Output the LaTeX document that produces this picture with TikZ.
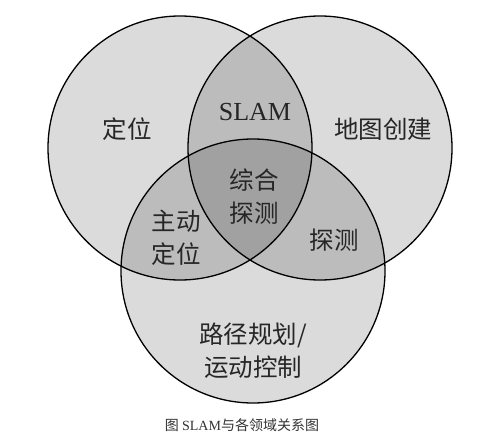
\documentclass[tikz,border=0pt]{standalone}
\usepackage{fontspec}
\setmainfont{Liberation Serif}
\newfontfamily\cjk{Noto Sans CJK SC}
\usetikzlibrary{positioning}

\tikzset{
	area/.style={draw=black, line width=1.3pt, fill=black, fill opacity=0.14, draw opacity=1},
	lbl/.style={align=center, text=black!85, font=\cjk\fontsize{24.5}{33}\selectfont}
}

\begin{document}
\begin{tikzpicture}[x=1pt, y=1pt]

	% page frame, white background
	\useasboundingbox[fill=white] (0,0) rectangle (500,445);

	% the three fields, overlaps darken by transparency
	\draw[area] (180,297) circle (132);
	\draw[area] (320,297) circle (132);
	\draw[area] (253,174) circle (132);

	% one field only
	\node[lbl] (loc) at (127,316) {定位};
	\node[lbl] (map) at (383,316) {地图创建};
	\node[lbl] (path) at (253,94) {路径规划/\\运动控制};

	% two fields
	\node[lbl, font=\fontsize{26}{30}\selectfont] (slam) at (255,333) {SLAM};
	\node[lbl] (actloc) at (176,207) {主动\\定位};
	\node[lbl] (expl) at (334,205) {探测};

	% all three
	\node[lbl] (full) at (254,248) {综合\\探测};

	% caption
	\node[text=black!80, font=\cjk\fontsize{14}{16}\selectfont] (cap) at (242,20) {图 {\rmfamily SLAM}与各领域关系图};

\end{tikzpicture}
\end{document}
